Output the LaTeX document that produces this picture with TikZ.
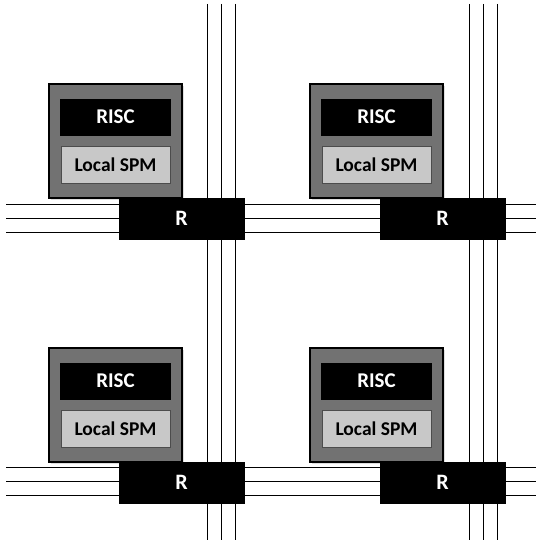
\documentclass[tikz,border=0pt]{standalone}
\usepackage{fontspec}
\setmainfont{Carlito}
\usepackage{xcolor}
\usetikzlibrary{positioning,calc,shadows}
\definecolor{peGray}{RGB}{114,114,114}
\definecolor{spmGray}{RGB}{200,200,200}

\begin{document}
\begin{tikzpicture}[x=1pt, y=-1pt, node distance=10pt, font=\bfseries]
  \tikzstyle{pe}=[draw, line width=1.3pt, fill=peGray, minimum width=133pt, minimum height=114pt, inner sep=0pt, drop shadow={opacity=0.25, shadow xshift=1.5pt, shadow yshift=-1.5pt}]
  \tikzstyle{risc}=[fill=black, text=white, minimum width=111pt, minimum height=37pt, inner sep=0pt, font=\bfseries\fontsize{21}{23}\selectfont]
  \tikzstyle{spm}=[draw=black!70, fill=spmGray, minimum width=109pt, minimum height=37pt, inner sep=0pt, drop shadow={opacity=0.3, shadow xshift=1pt, shadow yshift=-1pt}, font=\bfseries\fontsize{19.5}{21}\selectfont]
  \tikzstyle{router}=[fill=black, text=white, minimum width=126pt, minimum height=42pt, inner sep=0pt, font=\bfseries\fontsize{22}{24}\selectfont]
  \tikzstyle{link}=[line width=0.9pt]

  \useasboundingbox (0,0) rectangle (536,543);

  % mesh links
  \draw[link] (207,4) -- (207,540); \draw[link] (221,4) -- (221,540); \draw[link] (235,4) -- (235,540);
  \draw[link] (469,4) -- (469,540); \draw[link] (483,4) -- (483,540); \draw[link] (497,4) -- (497,540);
  \draw[link] (6,204) -- (536,204); \draw[link] (6,218) -- (536,218); \draw[link] (6,232) -- (536,232);
  \draw[link] (6,467) -- (536,467); \draw[link] (6,481) -- (536,481); \draw[link] (6,495) -- (536,495);

  % tiles
  \node[pe] (pe1) at (115.5,141) {};
  \node[risc, below=15pt of pe1.north] (risc1) {RISC};
  \node[spm, below=of risc1] (spm1) {Local SPM};
  \node[router] (r1) at ($(pe1.south east)+(-1,20)$) {R};

  \node[pe] (pe2) at (376.5,141) {};
  \node[risc, below=15pt of pe2.north] (risc2) {RISC};
  \node[spm, below=of risc2] (spm2) {Local SPM};
  \node[router] (r2) at ($(pe2.south east)+(-1,20)$) {R};

  \node[pe] (pe3) at (115.5,405) {};
  \node[risc, below=15pt of pe3.north] (risc3) {RISC};
  \node[spm, below=of risc3] (spm3) {Local SPM};
  \node[router] (r3) at ($(pe3.south east)+(-1,20)$) {R};

  \node[pe] (pe4) at (376.5,405) {};
  \node[risc, below=15pt of pe4.north] (risc4) {RISC};
  \node[spm, below=of risc4] (spm4) {Local SPM};
  \node[router] (r4) at ($(pe4.south east)+(-1,20)$) {R};
\end{tikzpicture}
\end{document}
